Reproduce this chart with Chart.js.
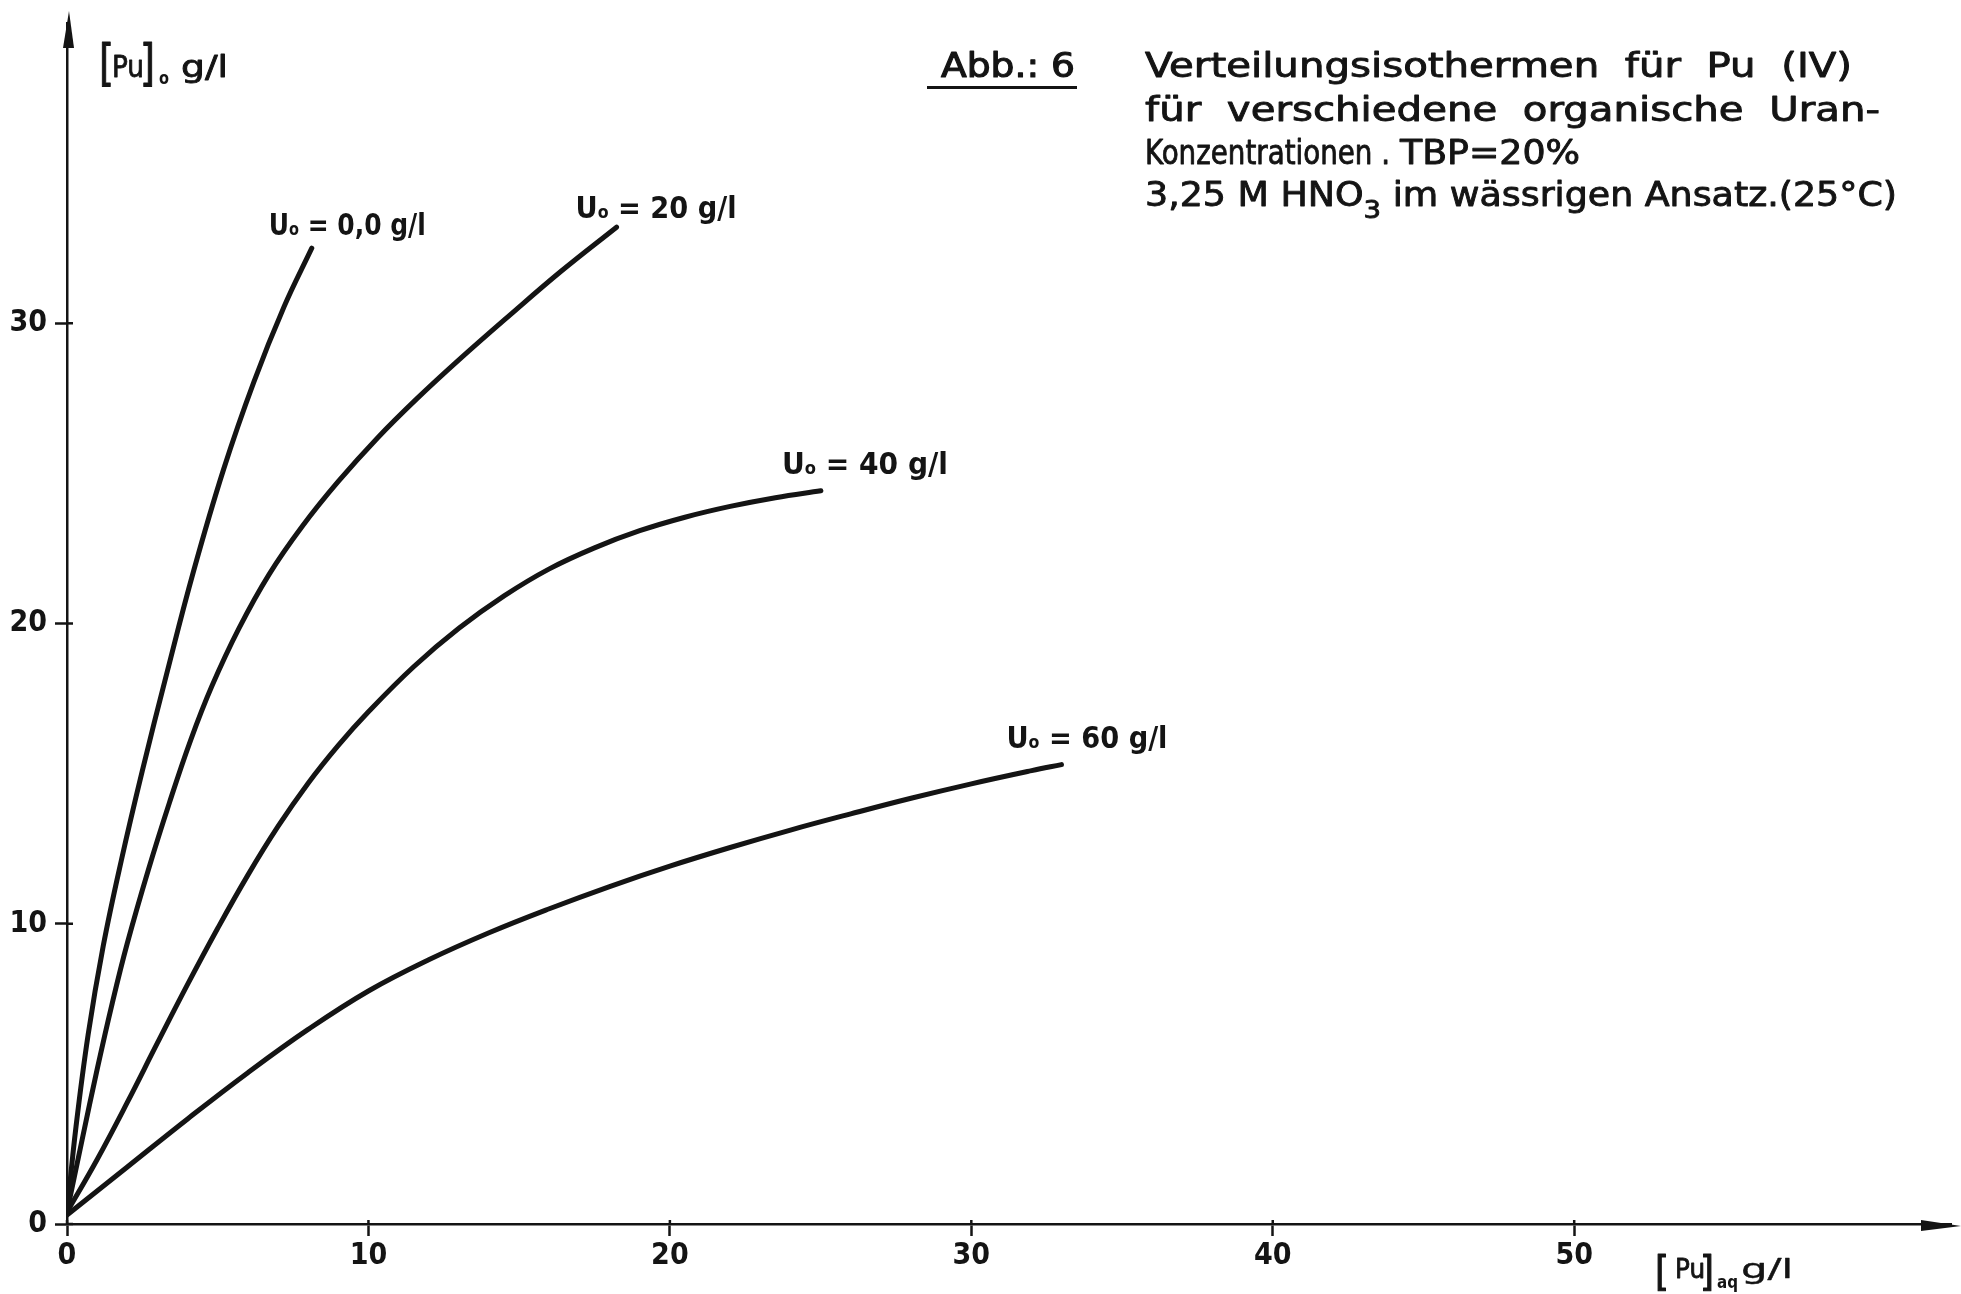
<!DOCTYPE html>
<html>
<head>
<meta charset="utf-8">
<title>Verteilungsisothermen für Pu (IV)</title>
<script src="https://cdn.jsdelivr.net/npm/chart.js@4.4.1/dist/chart.umd.min.js"></script>
<style>
  html, body { margin: 0; padding: 0; background: #ffffff; }
  #wrap { width: 1961px; height: 1294px; position: relative; }
</style>
</head>
<body>
<div id="wrap"><canvas id="c" width="1961" height="1294"></canvas></div>
<script>
// Distribution isotherms of Pu(IV): organic vs. aqueous Pu concentration (g/l)
// for several organic uranium loadings U_o.

// U_o = 0,0 g/l
const puAq_U0 = [0, 0.3, 0.7, 1.2, 1.8, 2.5, 3.3, 4.2, 5.2, 6.2, 7.2, 8.12];
const puOrg_U0 = [0.4, 3.25, 6.3, 9.25, 12.1, 15.1, 18.3, 21.75, 25.15, 28.05, 30.55, 32.5];

// U_o = 20 g/l
const puAq_U20 = [0, 0.5, 1, 1.5, 2, 2.7, 3.4, 4.1, 4.8, 5.7, 6.7, 7.8, 9, 10.3, 11.6, 13, 14.7, 16.4, 18.23];
const puOrg_U20 = [0.4, 2.8, 5.15, 7.35, 9.35, 11.8, 14.04, 16.11, 17.9, 19.83, 21.63, 23.23, 24.73, 26.18, 27.48, 28.78, 30.28, 31.74, 33.2];

// U_o = 40 g/l
const puAq_U40 = [0, 1, 2, 3, 4, 5, 6, 7, 8, 9, 10, 11.5, 13, 14.5, 16, 17.5, 19, 20.5, 22, 23.5, 25.01];
const puOrg_U40 = [0.4, 2.15, 4.05, 6.03, 7.98, 9.85, 11.62, 13.24, 14.68, 15.94, 17.06, 18.56, 19.84, 20.92, 21.82, 22.52, 23.09, 23.54, 23.9, 24.19, 24.42];

// U_o = 60 g/l
const puAq_U60 = [0, 2, 4, 6, 8, 10, 12, 14, 16, 18, 20, 22, 24, 26, 28, 30, 32, 32.99];
const puOrg_U60 = [0.3, 1.9, 3.5, 5.04, 6.48, 7.76, 8.8, 9.7, 10.5, 11.24, 11.92, 12.54, 13.12, 13.66, 14.18, 14.66, 15.1, 15.3];

// uranium loading of each isotherm, as printed on the curve labels
const uranLabels = ['0,0', '20', '40', '60'];

// axis ticks
const xTickValues = [0, 10, 20, 30, 40, 50];
const yTickValues = [0, 10, 20, 30];

const INK = '#141414';
const FONT = '"DejaVu Sans Condensed", "DejaVu Sans", sans-serif';

const pairs = (xs, ys) => xs.map((v, i) => ({ x: v, y: ys[i] }));
const curves = [
  pairs(puAq_U0, puOrg_U0),
  pairs(puAq_U20, puOrg_U20),
  pairs(puAq_U40, puOrg_U40),
  pairs(puAq_U60, puOrg_U60)
];

// placement of each curve label relative to the curve's last point (px)
const labelLayout = [
  { dx: -43, dy: -13, w: 157 },
  { dx: -41, dy: -9,  w: 161 },
  { dx: -39, dy: -17, w: 166 },
  { dx: -55, dy: -17, w: 161 }
];

// draw a run of text pieces (with subscripts) squeezed/stretched to a given width;
// an optional thin outline gives the heavier stroke of the lettering stencil
function drawRuns(ctx, runs, x, y, targetW, outline) {
  let total = 0;
  runs.forEach(r => {
    ctx.font = `${r.weight || 'normal'} ${r.size}px ${FONT}`;
    r.w = ctx.measureText(r.text).width;
    total += r.w;
  });
  const sx = targetW ? targetW / total : 1;
  ctx.save();
  ctx.translate(x, y);
  ctx.scale(sx, 1);
  ctx.textAlign = 'left';
  ctx.textBaseline = 'alphabetic';
  ctx.lineJoin = 'round';
  let cx = 0;
  runs.forEach(r => {
    ctx.font = `${r.weight || 'normal'} ${r.size}px ${FONT}`;
    ctx.fillText(r.text, cx, r.dy || 0);
    if (outline) {
      ctx.lineWidth = outline;
      ctx.strokeText(r.text, cx, r.dy || 0);
    }
    cx += r.w;
  });
  ctx.restore();
}

const fit = (ctx, text, x, y, size, w, weight, outline) =>
  drawRuns(ctx, [{ text, size, weight }], x, y, w, outline);

const decorations = {
  id: 'decorations',
  afterDraw(chart) {
    const { ctx, scales: { x, y }, chartArea } = chart;
    const ax = x.getPixelForValue(0);
    const ay = y.getPixelForValue(0);
    ctx.save();
    ctx.fillStyle = INK;
    ctx.strokeStyle = INK;
    ctx.lineWidth = 2.5;

    // short tick stubs on the inner side of the axes
    ctx.beginPath();
    xTickValues.forEach(v => {
      const px = x.getPixelForValue(v);
      ctx.moveTo(px, ay + 1);
      ctx.lineTo(px, ay - 4);
    });
    yTickValues.forEach(v => {
      const py = y.getPixelForValue(v);
      ctx.moveTo(ax - 1, py);
      ctx.lineTo(ax + 6, py);
    });
    ctx.stroke();

    // arrow heads
    ctx.beginPath();
    ctx.moveTo(ax + 2, chartArea.top - 12);
    ctx.lineTo(ax - 4, chartArea.top + 25);
    ctx.lineTo(ax + 7, chartArea.top + 25);
    ctx.closePath();
    ctx.fill();
    ctx.beginPath();
    ctx.moveTo(chartArea.right + 10, ay + 2);
    ctx.lineTo(chartArea.right - 30, ay - 4);
    ctx.lineTo(chartArea.right - 30, ay + 7);
    ctx.closePath();
    ctx.fill();

    // y axis title  [Pu]o g/l
    fit(ctx, '[', 99, 80, 50, 15, 'normal', 1);
    fit(ctx, 'Pu', 112, 77, 31, 32, 'normal', 0.8);
    fit(ctx, ']', 140, 80, 50, 15, 'normal', 1);
    fit(ctx, 'o', 159, 84, 17, 10, 'bold');
    fit(ctx, 'g/l', 181, 77, 30, 47, 'normal', 0.8);

    // x axis title  [Pu]aq g/l
    fit(ctx, '[', 1655, 1285, 40, 14, 'normal', 1);
    fit(ctx, 'Pu', 1675, 1278, 27, 30, 'normal', 0.8);
    fit(ctx, ']', 1700, 1285, 40, 14, 'normal', 1);
    fit(ctx, 'aq', 1717, 1288, 17, 21, 'bold');
    fit(ctx, 'g/l', 1741, 1278, 27, 52, 'normal', 0.4);

    // curve labels, anchored at the end of each isotherm
    curves.forEach((pts, i) => {
      const end = pts[pts.length - 1];
      const px = x.getPixelForValue(end.x);
      const py = y.getPixelForValue(end.y);
      const L = labelLayout[i];
      drawRuns(ctx, [
        { text: 'U', size: 31, weight: 'bold' },
        { text: 'o', size: 18, weight: 'bold' },
        { text: ' = ' + uranLabels[i] + ' g/l', size: 31, weight: 'bold' }
      ], px + L.dx, py + L.dy, L.w);
    });

    // figure caption
    fit(ctx, 'Abb.: 6', 941, 77, 33, 134, 'normal', 1);
    ctx.lineWidth = 3;
    ctx.beginPath();
    ctx.moveTo(927, 87.5);
    ctx.lineTo(1077, 87.5);
    ctx.stroke();
    fit(ctx, 'Verteilungsisothermen  für  Pu  (IV)', 1145, 77, 33, 707, 'normal', 0.8);
    fit(ctx, 'für  verschiedene  organische  Uran-', 1145, 121, 33, 735, 'normal', 0.8);
    fit(ctx, 'Konzentrationen .', 1145, 164, 33, 245, 'normal', 0.8);
    fit(ctx, 'TBP=20%', 1400, 164, 33, 180, 'normal', 0.8);
    drawRuns(ctx, [
      { text: '3,25 M HNO', size: 33 },
      { text: '3', size: 25, dy: 12 },
      { text: ' im wässrigen Ansatz.(25°C)', size: 33 }
    ], 1145, 206, 752, 0.8);

    ctx.restore();
  }
};

const datasets = curves.map((pts, i) => ({
  label: 'U_o = ' + uranLabels[i] + ' g/l',
  data: pts,
  borderColor: INK,
  borderWidth: 5,
  pointRadius: 0,
  fill: false,
  tension: 0.4,
  borderCapStyle: 'round',
  borderJoinStyle: 'round'
}));

new Chart(document.getElementById('c'), {
  type: 'line',
  data: { datasets },
  options: {
    responsive: false,
    devicePixelRatio: 1,
    animation: false,
    layout: { padding: { top: 22, right: 10, left: 0, bottom: 0 } },
    plugins: { legend: { display: false }, tooltip: { enabled: false }, title: { display: false } },
    scales: {
      x: {
        type: 'linear',
        min: 0,
        max: 62.5,
        afterFit: s => { s.height = 70; },
        afterBuildTicks: s => { s.ticks = xTickValues.map(v => ({ value: v })); },
        grid: { display: true, drawOnChartArea: false, drawTicks: true, tickLength: 12, tickWidth: 2.5, tickColor: INK },
        border: { display: true, width: 2.5, color: INK },
        ticks: { color: INK, padding: 5, maxRotation: 0, font: { family: FONT, size: 30, weight: 'bold', lineHeight: 1 } }
      },
      y: {
        type: 'linear',
        min: 0,
        max: 40,
        afterFit: s => { s.width = 67; },
        afterBuildTicks: s => { s.ticks = yTickValues.map(v => ({ value: v })); },
        grid: { display: true, drawOnChartArea: false, drawTicks: true, tickLength: 12, tickWidth: 2.5, tickColor: INK },
        border: { display: true, width: 2.5, color: INK },
        ticks: { color: INK, padding: 8, font: { family: FONT, size: 30, weight: 'bold', lineHeight: 1 } }
      }
    }
  },
  plugins: [decorations]
});
</script>
</body>
</html>
